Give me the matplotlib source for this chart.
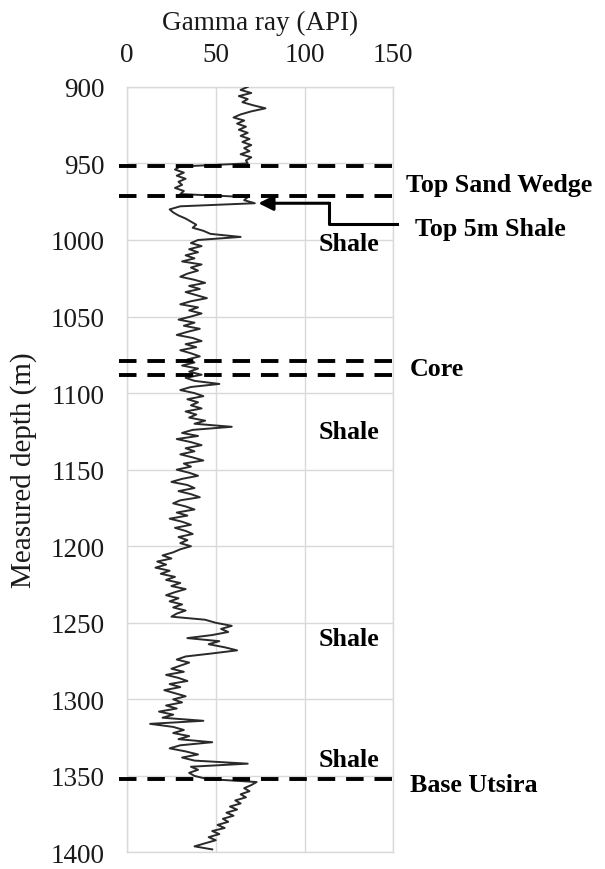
import numpy as np
import matplotlib
matplotlib.use("Agg")
import matplotlib.pyplot as plt

# ---------------- data ----------------
depth_start = 900
depth_step = 2
gamma_ray = [
    68, 64, 70, 63, 68, 65, 71, 78, 70, 64, 60, 66, 62, 67, 63, 68, 64, 69, 65, 70, 66, 69, 64, 70, 67,   # 900-948
    68, 30, 27, 32, 28, 33, 29, 31, 27, 32, 30, 68, 66, 72, 30, 24, 26, 29, 33, 36, 39, 37, 43, 47, 64,   # 950-998
    40, 36, 42, 35, 40, 33, 38, 31, 42, 36, 40, 34, 30, 38, 44, 35, 41, 33, 39, 45, 36, 30, 40, 35, 42,   # 1000-1048
    36, 29, 38, 32, 41, 34, 28, 37, 42, 33, 39, 30, 36, 41, 34, 38, 31, 40, 35, 42, 33, 38, 52, 36, 30,   # 1050-1098
    38, 43, 34, 40, 36, 42, 33, 39, 35, 44, 38, 59, 37, 31, 40, 28, 36, 42, 33, 38, 30, 37, 43, 32, 36,   # 1100-1148
    28, 35, 40, 31, 25, 34, 38, 29, 36, 41, 30, 26, 33, 38, 28, 34, 24, 31, 36, 27, 33, 37, 29, 34, 30,   # 1150-1198
    36, 30, 26, 20, 25, 17, 22, 16, 24, 19, 27, 22, 30, 25, 33, 27, 22, 29, 24, 31, 26, 33, 28, 25, 44,   # 1200-1248
    50, 59, 53, 57, 48, 34, 52, 46, 55, 62, 48, 33, 28, 35, 30, 25, 32, 22, 29, 34, 24, 30, 21, 27, 33,   # 1250-1298
    26, 31, 22, 28, 18, 26, 20, 43, 13, 26, 32, 26, 35, 29, 48, 30, 24, 33, 40, 31, 38, 68, 36, 40, 35,   # 1300-1348
    38, 45, 73, 70, 66, 69, 64, 67, 61, 64, 58, 62, 56, 60, 54, 57, 51, 55, 48, 52, 46, 50, 44, 38, 48,   # 1350-1398
]
depth = depth_start + depth_step * np.arange(len(gamma_ray))

marker_depths = [952, 971, 1079, 1088, 1352]
x_ticks = [0, 50, 100, 150]
y_ticks = [900, 950, 1000, 1050, 1100, 1150, 1200, 1250, 1300, 1350, 1400]

labels = [
    ("Top Sand Wedge", 157, 963.5),
    ("Top 5m Shale", 162.5, 992.5),
    ("Shale", 108, 1002),
    ("Core", 159.5, 1084),
    ("Shale", 108, 1125),
    ("Shale", 108, 1260),
    ("Shale", 108, 1339),
    ("Base Utsira", 159.5, 1355.5),
]
arrow_path_x = [152, 114, 114, 74]
arrow_path_y = [989.5, 989.5, 976, 976]

# ---------------- plot ----------------
plt.rcParams['font.family'] = ['Liberation Serif', 'DejaVu Serif']
fig = plt.figure(figsize=(6.05, 8.7), dpi=100)
ax = fig.add_axes([0.21, 0.019, 0.44, 0.880])

ax.plot(gamma_ray, depth, color='#2a2a2a', lw=1.4, zorder=3)

ax.set_xlim(0, 150)
ax.set_ylim(1400, 900)
ax.set_xticks(x_ticks)
ax.set_yticks(y_ticks)
ax.xaxis.tick_top()
ax.xaxis.set_label_position('top')
ax.tick_params(axis='both', length=0, labelsize=19.5, colors='#1a1a1a')
ax.tick_params(axis='x', pad=14)
ax.tick_params(axis='y', pad=16)
ax.set_xlabel("Gamma ray (API)", fontsize=19.5, color='#1a1a1a', labelpad=10)
ax.set_ylabel("Measured depth (m)", fontsize=21, color='#1a1a1a', labelpad=10)
ax.grid(True, color='#d9d9d9', lw=1.0)
ax.set_axisbelow(True)
for s in ax.spines.values():
    s.set_color('#d9d9d9')
    s.set_linewidth(1.0)

for d in marker_depths:
    ax.plot([-4.5, 154], [d, d], color='black', lw=2.8, ls=(0, (4.5, 2.8)),
            clip_on=False, zorder=4)

for text, x, y in labels:
    ax.text(x, y, text, fontsize=18.7, fontweight='bold', color='black',
            ha='left', va='center', clip_on=False, zorder=5)

ax.plot(arrow_path_x[:-1], arrow_path_y[:-1], color='black', lw=2.2,
        clip_on=False, zorder=5)
ax.annotate("", xy=(arrow_path_x[-1], arrow_path_y[-1]),
            xytext=(arrow_path_x[-2], arrow_path_y[-2]),
            arrowprops=dict(arrowstyle='-|>', color='black', lw=2.2,
                            mutation_scale=22, shrinkA=0, shrinkB=0),
            zorder=5, annotation_clip=False)

fig.savefig("out.png", dpi=100)
